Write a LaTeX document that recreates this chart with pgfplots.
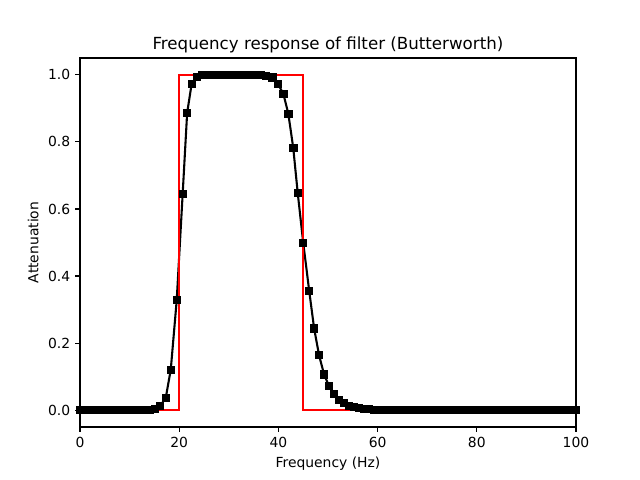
\documentclass[border=0pt]{standalone}
\usepackage{pgfplots}
\pgfplotsset{compat=1.18}
\usepackage{fontspec}
\setmainfont{DejaVu Sans}
\begin{document}
\begin{tikzpicture}
\path[use as bounding box] (-57.6pt,-38.16pt) rectangle (403.2pt,307.44pt);
\begin{axis}[
  scale only axis,
  width=357.12pt, height=265.68pt,
  xmin=0, xmax=100, ymin=-0.05, ymax=1.05,
  xtick={0,20,40,60,80,100},
  ytick={0,0.2,0.4,0.6,0.8,1.0},
  yticklabel style={/pgf/number format/fixed,/pgf/number format/fixed zerofill,/pgf/number format/precision=1},
  /pgf/number format/assume math mode=true,
  tick align=outside, tick pos=left,
  major tick length=3.5pt,
  every tick/.style={line width=0.8pt,black},
  axis line style={line width=0.8pt},
  tick label style={font=\fontsize{10}{12}\selectfont},
  label style={font=\fontsize{10}{12}\selectfont},
  title style={font=\fontsize{12}{14}\selectfont, yshift=-6pt},
  title={Frequency response of filter (Butterworth)},
  xlabel={Frequency (Hz)},
  ylabel={Attenuation},
  clip=false,
]
\addplot[black, line width=1.5pt, mark=square*, mark size=2.6pt, mark options={solid, line width=0.5pt}] coordinates {
(0,0) (1.01,0) (2.02,0) (3.03,0) (4.04,0) (5.05,0) (6.06,0) (7.07,0) (8.08,0) (9.09,0)
(10.1,0) (11.11,0) (12.12,0) (13.13,0) (14.14,0) (15.15,0.003) (16.16,0.012)
(17.3,0.038) (18.3,0.121) (19.5,0.328) (20.7,0.645) (21.6,0.886) (22.5,0.972)
(23.5,0.993) (24.5,0.999) (25.5,1) (26.5,1) (27.5,1) (28.5,1) (29.5,1) (30.5,1)
(31.5,1) (32.5,1) (33.5,1) (34.5,1) (35.5,1) (36.5,0.999) (37.5,0.997)
(38.8,0.992) (39.9,0.973) (41.0,0.943) (42.0,0.884) (43.0,0.781) (43.9,0.647)
(45.0,0.5) (46.2,0.357) (47.2,0.244) (48.2,0.164) (49.2,0.107) (50.2,0.072)
(51.2,0.049) (52.2,0.031) (53.2,0.021) (54.2,0.014) (55.2,0.009) (56.2,0.006)
(57.2,0.004) (58.2,0.003) (59.2,0.002) (60.2,0.001)
(61.2,0) (62.2,0) (63.2,0) (64.2,0) (65.2,0) (66.2,0) (67.2,0) (68.2,0) (69.2,0)
(70.2,0) (71.2,0) (72.2,0) (73.2,0) (74.2,0) (75.2,0) (76.2,0) (77.2,0) (78.2,0)
(79.2,0) (80.2,0) (81.2,0) (82.2,0) (83.2,0) (84.2,0) (85.2,0) (86.2,0) (87.2,0)
(88.2,0) (89.2,0) (90.2,0) (91.2,0) (92.2,0) (93.2,0) (94.2,0) (95.2,0) (96.2,0)
(97.2,0) (98.2,0) (99.2,0) (100,0)
};
\addplot[red, line width=1.5pt, mark=none] coordinates {
(0,0) (20,0) (20,1) (45,1) (45,0) (100,0)
};
\end{axis}
\end{tikzpicture}
\end{document}
